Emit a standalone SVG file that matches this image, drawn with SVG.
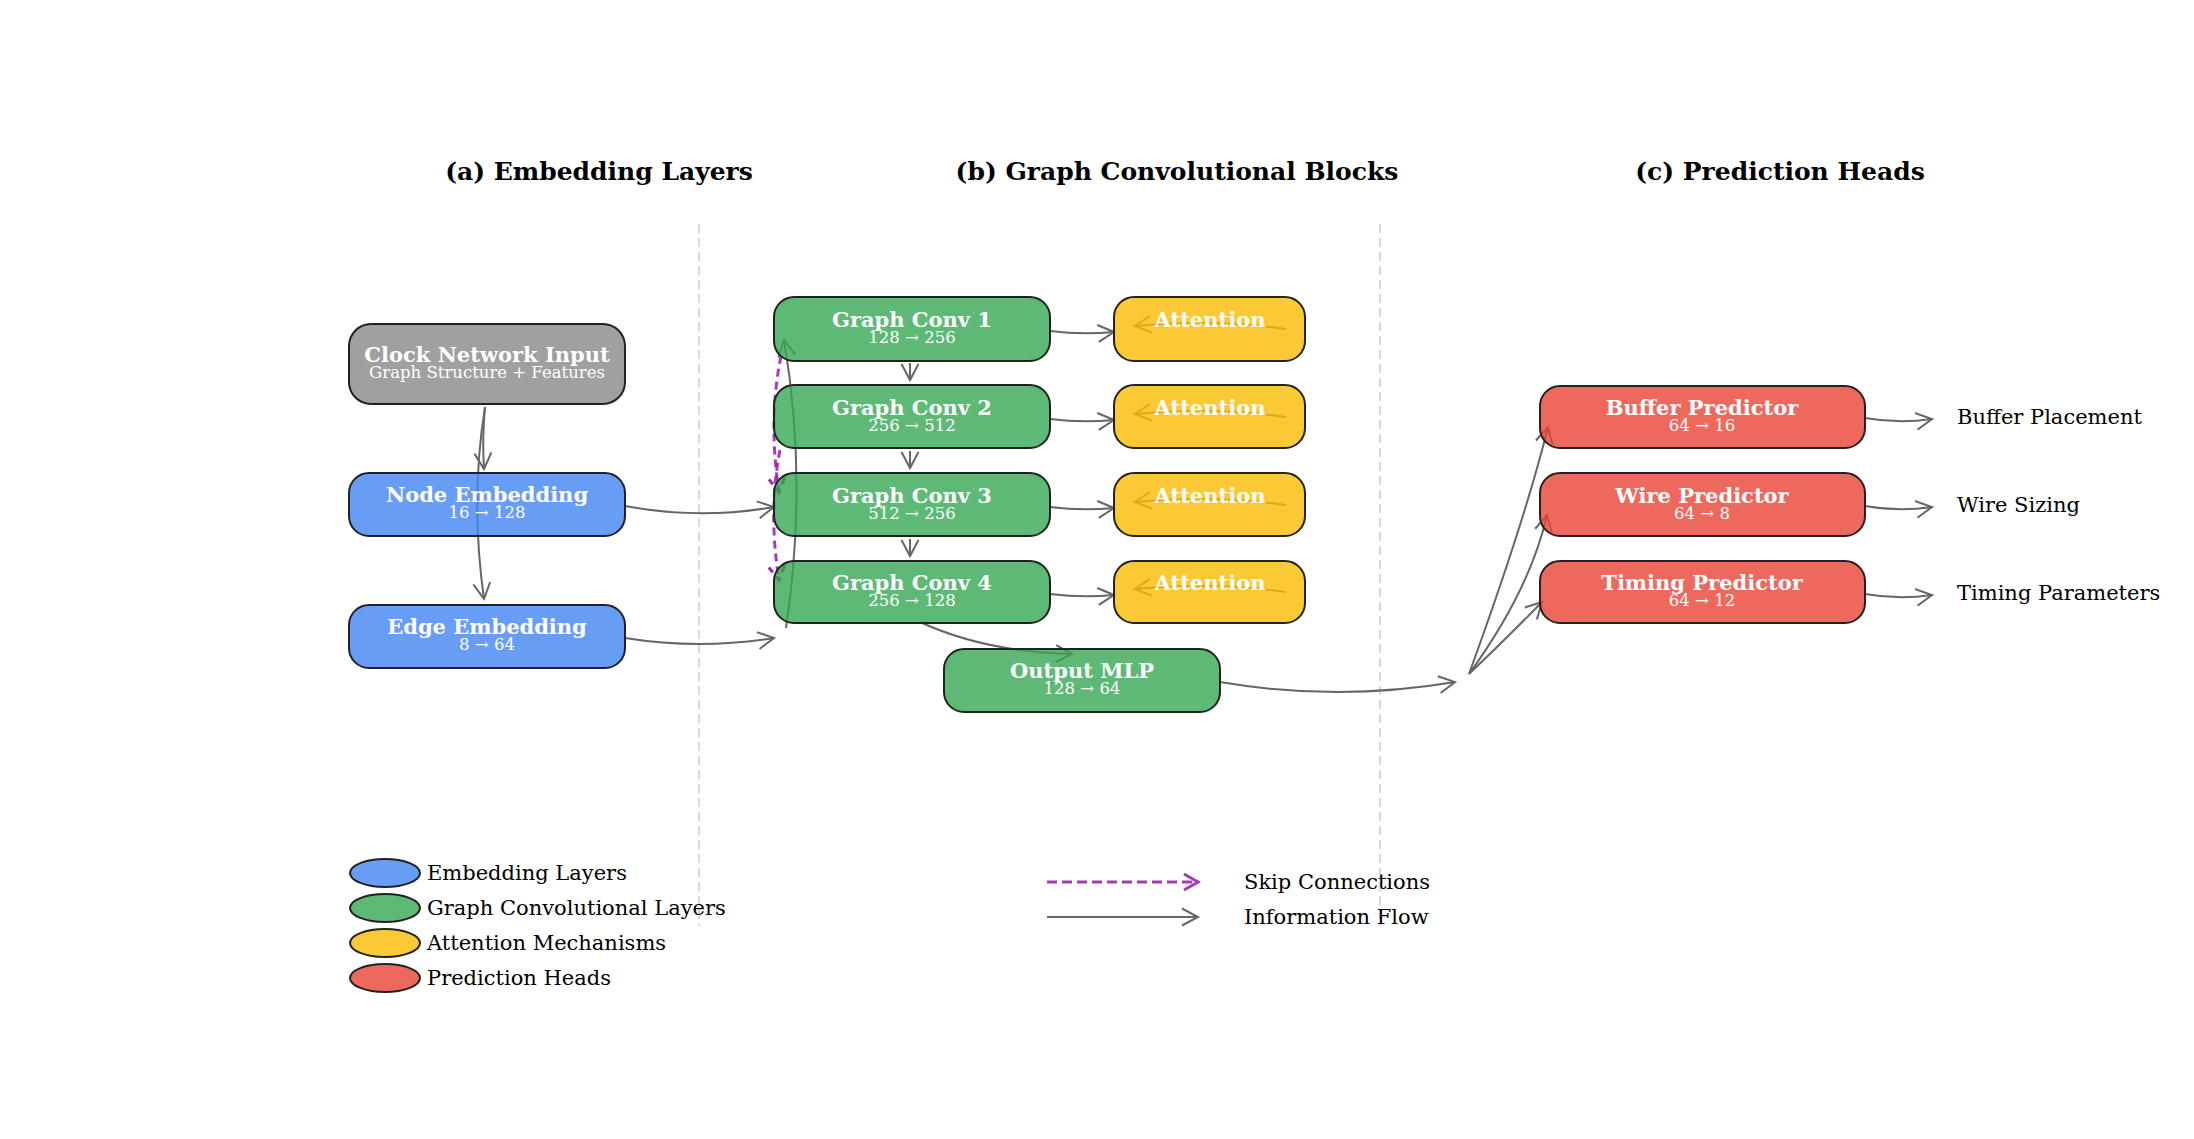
<svg xmlns="http://www.w3.org/2000/svg" width="2194" height="1139" viewBox="0 0 2194 1139">
<defs>
<marker id="ah" markerUnits="userSpaceOnUse" markerWidth="24" markerHeight="24" viewBox="-20 -12 24 24" refX="0" refY="0" orient="auto" overflow="visible"><path d="M-16,-8.5 L0,0 L-16,8.5" fill="none" stroke="#666" stroke-width="2"/></marker>
<marker id="ahp" markerUnits="userSpaceOnUse" markerWidth="24" markerHeight="24" viewBox="-20 -12 24 24" refX="0" refY="0" orient="auto" overflow="visible"><path d="M-14,-8 L0,0 L-14,8" fill="none" stroke="#9c27b0" stroke-width="3" stroke-dasharray="8 5"/></marker>
<marker id="ahpl" markerUnits="userSpaceOnUse" markerWidth="24" markerHeight="24" viewBox="-20 -12 24 24" refX="0" refY="0" orient="auto" overflow="visible"><path d="M-14,-8 L0,0 L-14,8" fill="none" stroke="#a33bb8" stroke-width="3"/></marker>
<style>
text{font-family:"DejaVu Serif","Liberation Serif",serif;}
.title{font-size:25px;font-weight:bold;fill:#000;text-anchor:middle;}
.nt{font-size:21px;font-weight:bold;fill:#fff;text-anchor:middle;}
.ns{font-size:16.5px;fill:#fff;text-anchor:middle;}
.lbl{font-size:21px;fill:#000;}
.box{stroke:#222;stroke-width:2;fill-opacity:0.8;}
.gray{fill:#888888;}
.blue{fill:#4285f4;}
.green{fill:#34a853;}
.yellow{fill:#fbbc04;}
.red{fill:#ea4335;}
.flow{fill:none;stroke:#666;stroke-width:2;marker-end:url(#ah);}
.skip{fill:none;stroke:#9c27b0;stroke-width:3;stroke-dasharray:8 5;stroke-opacity:0.9;marker-end:url(#ahp);}
.div{stroke:#d9d9d9;stroke-width:2;stroke-dasharray:9 5;}
</style>
</defs>
<rect width="2194" height="1139" fill="#fff"/>

<g id="titles">
<text class="title" x="599" y="180">(a) Embedding Layers</text>
<text class="title" x="1177" y="180">(b) Graph Convolutional Blocks</text>
<text class="title" x="1780" y="180">(c) Prediction Heads</text>
</g>

<g id="dividers">
<line class="div" x1="699" y1="224" x2="699" y2="926"/>
<line class="div" x1="1380" y1="224" x2="1380" y2="926"/>
</g>

<g id="connectors">
<path class="flow" d="M485,407 Q482,440 484,469"/>
<path class="flow" d="M485,407 Q470,500 484,599"/>
<path class="flow" d="M625,506 Q700,520 774,507"/>
<path class="flow" d="M625,638 Q700,650 774,638"/>
<path class="flow" d="M786,628 Q808,480 784,340"/>
<path class="flow" d="M1050,331 Q1082,335 1114,332"/>
<path class="flow" d="M1050,419 Q1082,423 1114,420"/>
<path class="flow" d="M1050,507 Q1082,511 1114,508"/>
<path class="flow" d="M1050,594 Q1082,598 1114,595"/>
<path class="flow" d="M1286,329 Q1210,318 1135,326"/>
<path class="flow" d="M1286,417 Q1210,406 1135,414"/>
<path class="flow" d="M1286,505 Q1210,494 1135,502"/>
<path class="flow" d="M1286,592 Q1210,581 1135,589"/>
<path class="flow" d="M910,363 L910,380"/>
<path class="flow" d="M910,451 L910,468"/>
<path class="flow" d="M910,539 L910,556"/>
<path class="flow" d="M920,622 Q985,652 1072,654"/>
<path class="flow" d="M1220,682 Q1337,702 1455,682"/>
<path class="flow" d="M1469,674 Q1525,520 1548,427"/>
<path class="flow" d="M1469,674 Q1530,590 1547,515"/>
<path class="flow" d="M1469,674 Q1505,640 1542,602"/>
<path class="flow" d="M1865,418 Q1899,424 1932,419"/>
<path class="flow" d="M1865,506 Q1899,512 1932,507"/>
<path class="flow" d="M1865,594 Q1899,600 1932,595"/>
<path class="skip" d="M781,356 Q768,420 779,492"/>
<path class="skip" d="M780,450 Q768,512 779,580"/>
</g>

<g id="node-clock"><rect class="box gray" x="349" y="324" width="276" height="80" rx="22"/><text class="nt" x="487" y="362">Clock Network Input</text><text class="ns" x="487" y="378">Graph Structure + Features</text></g>
<g id="node-node-emb"><rect class="box blue" x="349" y="473" width="276" height="63" rx="20"/><text class="nt" x="487" y="502">Node Embedding</text><text class="ns" x="487" y="518">16 → 128</text></g>
<g id="node-edge-emb"><rect class="box blue" x="349" y="605" width="276" height="63" rx="20"/><text class="nt" x="487" y="634">Edge Embedding</text><text class="ns" x="487" y="650">8 → 64</text></g>

<g id="node-gc1"><rect class="box green" x="774" y="297" width="276" height="64" rx="20"/><text class="nt" x="912" y="327">Graph Conv 1</text><text class="ns" x="912" y="343">128 → 256</text></g>
<g id="node-gc2"><rect class="box green" x="774" y="385" width="276" height="63" rx="20"/><text class="nt" x="912" y="415">Graph Conv 2</text><text class="ns" x="912" y="431">256 → 512</text></g>
<g id="node-gc3"><rect class="box green" x="774" y="473" width="276" height="63" rx="20"/><text class="nt" x="912" y="503">Graph Conv 3</text><text class="ns" x="912" y="519">512 → 256</text></g>
<g id="node-gc4"><rect class="box green" x="774" y="561" width="276" height="62" rx="20"/><text class="nt" x="912" y="590">Graph Conv 4</text><text class="ns" x="912" y="606">256 → 128</text></g>
<g id="node-mlp"><rect class="box green" x="944" y="649" width="276" height="63" rx="20"/><text class="nt" x="1082" y="678">Output MLP</text><text class="ns" x="1082" y="694">128 → 64</text></g>

<g id="node-att1"><rect class="box yellow" x="1114" y="297" width="191" height="64" rx="20"/><text class="nt" x="1210" y="327">Attention</text></g>
<g id="node-att2"><rect class="box yellow" x="1114" y="385" width="191" height="63" rx="20"/><text class="nt" x="1210" y="415">Attention</text></g>
<g id="node-att3"><rect class="box yellow" x="1114" y="473" width="191" height="63" rx="20"/><text class="nt" x="1210" y="503">Attention</text></g>
<g id="node-att4"><rect class="box yellow" x="1114" y="561" width="191" height="62" rx="20"/><text class="nt" x="1210" y="590">Attention</text></g>

<g id="node-buffer"><rect class="box red" x="1540" y="386" width="325" height="62" rx="20"/><text class="nt" x="1702" y="415">Buffer Predictor</text><text class="ns" x="1702" y="431">64 → 16</text></g>
<g id="node-wire"><rect class="box red" x="1540" y="473" width="325" height="63" rx="20"/><text class="nt" x="1702" y="503">Wire Predictor</text><text class="ns" x="1702" y="519">64 → 8</text></g>
<g id="node-timing"><rect class="box red" x="1540" y="561" width="325" height="62" rx="20"/><text class="nt" x="1702" y="590">Timing Predictor</text><text class="ns" x="1702" y="606">64 → 12</text></g>

<g id="outputs">
<text class="lbl" x="1957" y="424">Buffer Placement</text>
<text class="lbl" x="1957" y="512">Wire Sizing</text>
<text class="lbl" x="1957" y="600">Timing Parameters</text>
</g>

<g id="legend">
<ellipse class="box blue" cx="385" cy="873" rx="35" ry="14"/><text class="lbl" x="427" y="880">Embedding Layers</text>
<ellipse class="box green" cx="385" cy="908" rx="35" ry="14"/><text class="lbl" x="427" y="915">Graph Convolutional Layers</text>
<ellipse class="box yellow" cx="385" cy="943" rx="35" ry="14"/><text class="lbl" x="427" y="950">Attention Mechanisms</text>
<ellipse class="box red" cx="385" cy="978" rx="35" ry="14"/><text class="lbl" x="427" y="985">Prediction Heads</text>
<line x1="1047" y1="882" x2="1198" y2="882" stroke="#a33bb8" stroke-width="3" stroke-dasharray="10 5" marker-end="url(#ahpl)"/>
<line x1="1047" y1="917" x2="1198" y2="917" stroke="#666" stroke-width="2" marker-end="url(#ah)"/>
<text class="lbl" x="1244" y="889">Skip Connections</text>
<text class="lbl" x="1244" y="924">Information Flow</text>
</g>
</svg>
